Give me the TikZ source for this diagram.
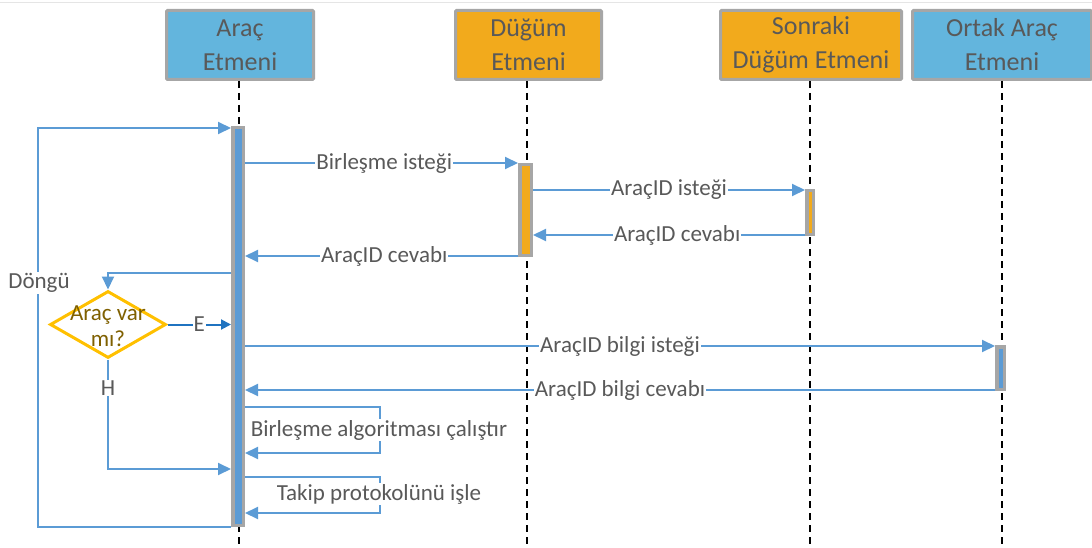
\documentclass[tikz,border=0pt]{standalone}
\usepackage{fontspec}
\setmainfont{Carlito}
\usetikzlibrary{arrows.meta,shapes.geometric}

\definecolor{hblue}{HTML}{63B5DD}
\definecolor{horange}{HTML}{F2AA1C}
\definecolor{hborder}{HTML}{A6A6A6}
\definecolor{txt}{HTML}{595959}
\definecolor{msgblue}{HTML}{5B9BD5}
\definecolor{eblue}{HTML}{1F73C0}
\definecolor{barblue}{HTML}{5B9BD5}
\definecolor{dgold}{HTML}{FFC000}
\definecolor{dtxt}{HTML}{7F6000}

\tikzset{
  head/.style={draw=hborder, line width=3pt, rounded corners=1pt, minimum height=69pt,
    align=center, text=txt, font=\fontsize{26}{34}\selectfont, inner sep=0pt},
  life/.style={draw=black, line width=2pt, dash pattern=on 7pt off 5pt},
  actbar/.style={draw=hborder, line width=3.5pt, inner sep=0pt},
  msg/.style={draw=msgblue, line width=2pt, -{Triangle[length=13pt,width=12pt]}},
  eline/.style={draw=eblue, line width=2pt, -{Triangle[length=10pt,width=10pt]}},
  lbl/.style={fill=white, text=txt, font=\fontsize{23}{26}\selectfont, inner sep=1pt},
  decision/.style={diamond, draw=dgold, line width=3pt, fill=white, inner sep=0pt,
    minimum width=116pt, minimum height=67pt},
}

\begin{document}
\begin{tikzpicture}[x=1pt, y=-1pt]
\useasboundingbox (0,0) rectangle (1092,548);
\draw[line width=1pt, draw=black!10] (0,3) -- (1092,3);

% participants
\node[head, fill=hblue,   minimum width=147pt] (hA) at (240,45)   {Araç\\Etmeni};
\node[head, fill=horange, minimum width=146pt] (hB) at (528.5,45) {Düğüm\\Etmeni};
\node[head, fill=horange, minimum width=181pt] (hC) at (811,45)   {Sonraki\\Düğüm Etmeni};
\node[head, fill=hblue,   minimum width=179pt] (hD) at (1002,45)  {Ortak Araç\\Etmeni};

% lifelines
\draw[life] (239,81) -- (239,548);
\draw[life] (527,81) -- (527,548);
\draw[life] (810,81) -- (810,548);
\draw[life] (1002,81) -- (1002,548);

% activation bars
\node[actbar, fill=barblue, minimum width=10.5pt, minimum height=397.5pt] (bA) at (238,326.5) {};
\node[actbar, fill=horange, minimum width=11.5pt, minimum height=90.5pt]  (bB) at (525.5,210) {};
\node[actbar, fill=horange, minimum width=6.5pt,  minimum height=43.5pt]  (bC) at (810,212.5) {};
\node[actbar, fill=barblue, minimum width=7.5pt,  minimum height=42.5pt]  (bD) at (1000.5,368) {};

% messages
\draw[msg] (bA.east |- 0,163) -- (bB.west |- 0,163)
  node[lbl, pos=0.51] (m1) {Birleşme isteği};
\draw[msg] (bB.east |- 0,190) -- (bC.west |- 0,190)
  node[lbl, pos=0.5] (m2) {AraçID isteği};
\draw[msg] (bC.west |- 0,235) -- (bB.east |- 0,235)
  node[lbl, pos=0.47] (m3) {AraçID cevabı};
\draw[msg] (bB.west |- 0,256) -- (bA.east |- 0,256)
  node[lbl, pos=0.49] (m4) {AraçID cevabı};
\draw[msg] (bA.east |- 0,346) -- (bD.west |- 0,346)
  node[lbl, pos=0.5] (m5) {AraçID bilgi isteği};
\draw[msg] (bD.west |- 0,390) -- (bA.east |- 0,390)
  node[lbl, pos=0.5] (m6) {AraçID bilgi cevabı};

% self messages
\coordinate (s1a) at (380,407);
\coordinate (s1b) at (380,453);
\draw[msg] (bA.east |- s1a) -- (s1a) -- (s1b) -- (bA.east |- s1b);
\node[lbl] (s1) at (379,430) {Birleşme algoritması çalıştır};
\coordinate (s2a) at (380,477);
\coordinate (s2b) at (380,513);
\draw[msg] (bA.east |- s2a) -- (s2a) -- (s2b) -- (bA.east |- s2b);
\node[lbl] (s2) at (379,494) {Takip protokolünü işle};

% decision
\node[decision] (dec) at (108,324.5) {};
\node[text=dtxt, font=\fontsize{23}{26}\selectfont, align=center, inner sep=0pt]
  (dtext) at (108,326) {Araç var\\mı?};
\coordinate (dtop) at (108,273);
\draw[msg] (bA.west |- dtop) -- (dtop) -- (dec.north);
\draw[eline] (dec.east) -- (bA.west |- dec.east) node[lbl, midway] (le) {E};
\coordinate (hc) at (108,469);
\draw[msg] (dec.south) -- (hc) -- (bA.west |- hc);
\node[lbl] (lh) at (108,388) {H};

% loop frame
\coordinate (lb) at (38,527);
\coordinate (lt) at (38,128);
\draw[msg] (bA.west |- lb) -- (lb) -- (lt) -- (bA.west |- lt);
\node[lbl] (loop) at (39,283) {Döngü};
\end{tikzpicture}
\end{document}
